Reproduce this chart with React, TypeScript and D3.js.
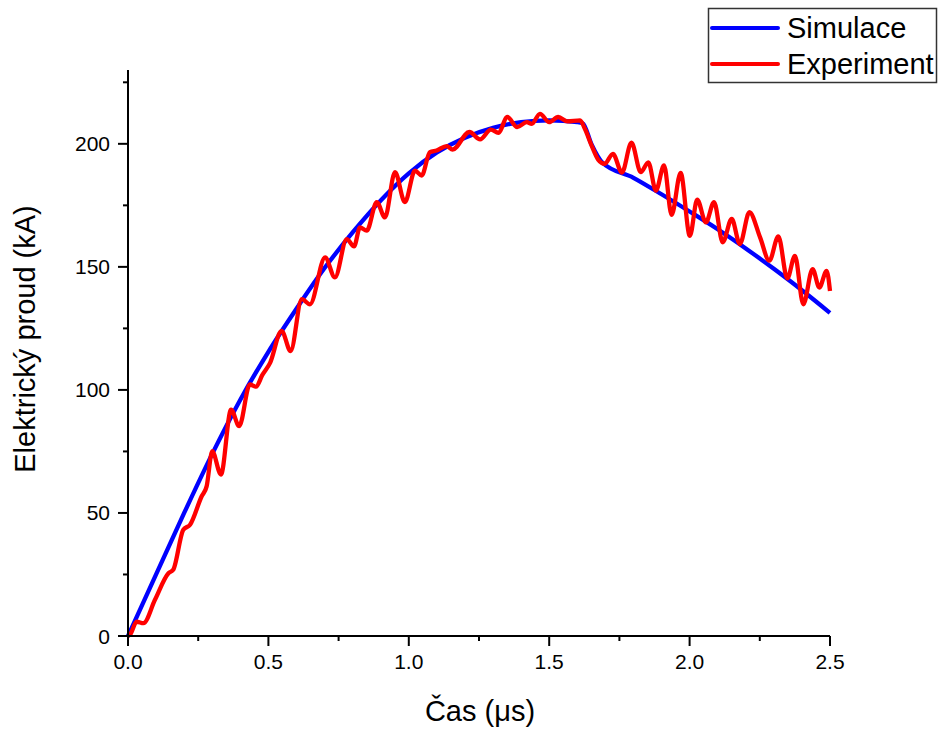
import React from "react";
import * as d3 from "d3";

const simT = [0, 0.1, 0.2, 0.3, 0.4, 0.5, 0.6, 0.7, 0.8, 0.9, 1.0, 1.1, 1.2, 1.3, 1.4, 1.5, 1.6, 1.62, 1.65, 1.69, 1.8, 1.9, 2.0, 2.1, 2.2, 2.3, 2.4, 2.5];
const simI = [0, 25, 50, 74, 96, 115.5, 133, 149.5, 164, 177, 188, 196.5, 202.5, 206.5, 208.8, 209.5, 208.8, 208.3, 200, 192.3, 186.2, 179.5, 172.5, 165.3, 157.5, 149.2, 140.5, 131.3];

const expT = [0, 0.007, 0.031, 0.055, 0.096, 0.144, 0.161, 0.197, 0.221, 0.262, 0.28, 0.3, 0.331, 0.367, 0.396, 0.434, 0.456, 0.478, 0.506, 0.547, 0.579, 0.619, 0.648, 0.702, 0.737, 0.779, 0.805, 0.826, 0.85, 0.886, 0.915, 0.951, 0.986, 1.022, 1.046, 1.075, 1.099, 1.135, 1.156, 1.216, 1.254, 1.292, 1.319, 1.351, 1.386, 1.42, 1.438, 1.467, 1.5, 1.532, 1.565, 1.61, 1.627, 1.651, 1.675, 1.697, 1.727, 1.759, 1.793, 1.826, 1.853, 1.88, 1.909, 1.936, 1.968, 2.001, 2.027, 2.058, 2.087, 2.118, 2.15, 2.179, 2.213, 2.251, 2.284, 2.316, 2.348, 2.375, 2.405, 2.438, 2.462, 2.488, 2.5];
const expI = [0, 0.5, 5.8, 5.2, 14.7, 25.5, 26.9, 43.2, 45.2, 56.7, 60.8, 75.1, 65.6, 92, 85.3, 102.2, 101.3, 106, 111, 124, 115.8, 136.9, 134.8, 153.8, 145.7, 161.3, 158.3, 166, 164.7, 176.3, 170.1, 188.5, 176.3, 189.1, 187.1, 196.6, 197.3, 199.1, 197.7, 204.8, 201.8, 205.8, 204.5, 210.9, 206.8, 208.8, 208.1, 212.2, 208.8, 210.9, 209.1, 209.5, 206.1, 199.3, 193.5, 191.9, 195.9, 188.3, 200.5, 188.5, 192.5, 181, 191.2, 171.1, 188.2, 162.6, 177.3, 168.1, 176.3, 160, 169.5, 159.3, 172.2, 162, 152.5, 162.4, 145.3, 154.5, 134.8, 149.1, 141.6, 148.4, 140.2];

const xMajor = [0, 0.5, 1.0, 1.5, 2.0, 2.5];
const xMinor = [0.25, 0.75, 1.25, 1.75, 2.25];
const yMajor = [0, 50, 100, 150, 200];
const yMinor = [25, 75, 125, 175, 225];

const seriesNames = ["Simulace", "Experiment"];
const seriesColors = ["#0000ff", "#ff0000"];

const xTitle = "Čas (μs)";
const yTitle = "Elektrický proud (kA)";

export default function App() {
  const x = d3.scaleLinear().domain([0, 2.5]).range([128, 830]);
  const y = d3.scaleLinear().domain([0, 230]).range([636, 70]);
  const line = d3
    .line<[number, number]>()
    .x((d) => x(d[0]))
    .y((d) => y(d[1]))
    .curve(d3.curveMonotoneX);
  const simPath = line(simT.map((t, i) => [t, simI[i]]) as [number, number][]) || "";
  const expPath = line(expT.map((t, i) => [t, expI[i]]) as [number, number][]) || "";
  const font = "Arial, 'Liberation Sans', sans-serif";
  const x0 = x(0);
  const y0 = y(0);

  return (
    <svg width={941} height={730} style={{ position: "absolute", left: 0, top: 0, background: "#fff" }} fontFamily={font}>
      <rect x={0} y={0} width={941} height={730} fill="#fff" />
      <path d={simPath} fill="none" stroke={seriesColors[0]} strokeWidth={4.3} strokeLinejoin="round" />
      <path d={expPath} fill="none" stroke={seriesColors[1]} strokeWidth={4.3} strokeLinejoin="round" />
      <line x1={x0 - 1} x2={x(2.5)} y1={y0} y2={y0} stroke="#000" strokeWidth={2} />
      {xMajor.map((v) => (
        <g key={"xm" + v}>
          <line x1={x(v)} x2={x(v)} y1={y0} y2={y0 + 10} stroke="#000" strokeWidth={2} />
          <text x={x(v)} y={y0 + 33} fontSize={21} textAnchor="middle" fill="#000">
            {d3.format(".1f")(v)}
          </text>
        </g>
      ))}
      {xMinor.map((v) => (
        <line key={"xn" + v} x1={x(v)} x2={x(v)} y1={y0} y2={y0 + 5} stroke="#000" strokeWidth={2} />
      ))}
      <line x1={x0} x2={x0} y1={y(230)} y2={y0 + 1} stroke="#000" strokeWidth={2} />
      {yMajor.map((v) => (
        <g key={"ym" + v}>
          <line x1={x0} x2={x0 - 10} y1={y(v)} y2={y(v)} stroke="#000" strokeWidth={2} />
          <text x={x0 - 18} y={y(v) + 7.5} fontSize={21} textAnchor="end" fill="#000">
            {v}
          </text>
        </g>
      ))}
      {yMinor.map((v) => (
        <line key={"yn" + v} x1={x0} x2={x0 - 5} y1={y(v)} y2={y(v)} stroke="#000" strokeWidth={2} />
      ))}
      <text x={480} y={721} fontSize={29} textAnchor="middle" fill="#000">
        {xTitle}
      </text>
      <text transform={`translate(35,339) rotate(-90)`} fontSize={29} textAnchor="middle" fill="#000">
        {yTitle}
      </text>
      <rect x={708.5} y={8.5} width={228} height={74} fill="#fff" stroke="#333" strokeWidth={1.5} />
      {seriesNames.map((n, i) => (
        <g key={n}>
          <line x1={712} x2={778} y1={28 + i * 36} y2={28 + i * 36} stroke={seriesColors[i]} strokeWidth={4} strokeLinecap="round" />
          <text x={787} y={38 + i * 36} fontSize={29} fill="#000">
            {n}
          </text>
        </g>
      ))}
    </svg>
  );
}
